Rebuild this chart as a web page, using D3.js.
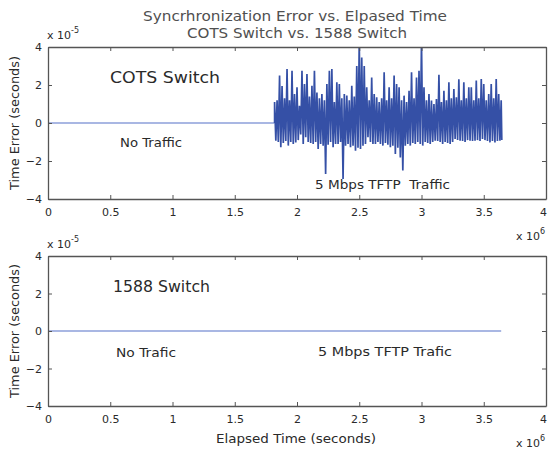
<!DOCTYPE html>
<html>
<head>
<meta charset="utf-8">
<script src="https://cdn.jsdelivr.net/npm/d3@7"></script>
<style>
  body { margin: 0; background: #fff; }
  svg text { font-family: "DejaVu Sans", Arial, sans-serif; fill: #2a2a2a; }
</style>
</head>
<body>
<div id="chart"></div>
<script>
// axis ticks (time in units of 10^6 s, error in units of 10^-5 s)
const timeTicks = [0, 0.5, 1, 1.5, 2, 2.5, 3, 3.5, 4];
const errorTicks = [-4, -2, 0, 2, 4];

// COTS switch: flat before traffic starts
const cotsQuietTime = [0, 1.82];
const cotsQuietError = [0, 0];

// COTS switch under TFTP traffic: peaks and troughs of the noisy trace
const cotsHighTime = [
  1.82, 1.84, 1.86, 1.88, 1.90, 1.92, 1.94, 1.96, 1.98, 2.00,
  2.02, 2.04, 2.06, 2.08, 2.10, 2.12, 2.14, 2.16, 2.18, 2.20,
  2.22, 2.24, 2.26, 2.28, 2.30, 2.32, 2.34, 2.36, 2.38, 2.40,
  2.42, 2.44, 2.46, 2.48, 2.50, 2.52, 2.54, 2.56, 2.58, 2.60,
  2.62, 2.64, 2.66, 2.68, 2.70, 2.72, 2.74, 2.76, 2.78, 2.80,
  2.82, 2.84, 2.86, 2.88, 2.90, 2.92, 2.94, 2.96, 2.98, 3.00,
  3.02, 3.04, 3.06, 3.08, 3.10, 3.12, 3.14, 3.16, 3.18, 3.20,
  3.22, 3.24, 3.26, 3.28, 3.30, 3.32, 3.34, 3.36, 3.38, 3.40,
  3.42, 3.44, 3.46, 3.48, 3.50, 3.52, 3.54, 3.56, 3.58, 3.60,
  3.62, 3.64
];
const cotsHighError = [
  1.1, 1.2, 2.5, 1.95, 1.3, 2.84, 1.2, 2.75, 1.53, 1.88,
  0.9, 2.75, 2.05, 2.58, 1.4, 1.96, 2.75, 1.61, 1.3, 1.53,
  1.2, 2.05, 2.75, 2.84, 1.1, 2.14, 2.05, 1.3, 1.53, 1.44,
  1.2, 1.96, 1.4, 3.0, 4.3, 3.45, 3.0, 1.88, 1.2, 2.4,
  1.53, 1.35, 1.1, 1.3, 2.67, 1.2, 1.88, 1.3, 2.5, 2.05,
  1.88, 1.2, 1.44, 1.1, 1.7, 2.67, 1.3, 2.4, 2.75, 4.3,
  1.88, 1.2, 1.53, 1.18, 1.0, 1.26, 2.54, 1.1, 1.7, 1.2,
  2.14, 1.3, 1.79, 1.35, 2.3, 1.2, 2.14, 1.3, 1.88, 1.88,
  1.2, 2.23, 1.3, 2.32, 2.05, 1.2, 1.53, 2.05, 1.3, 2.32,
  1.53, 1.2
];
const cotsLowTime = [
  1.83, 1.85, 1.87, 1.89, 1.91, 1.93, 1.95, 1.97, 1.99, 2.01,
  2.03, 2.05, 2.07, 2.09, 2.11, 2.13, 2.15, 2.17, 2.19, 2.21,
  2.23, 2.25, 2.27, 2.29, 2.31, 2.33, 2.35, 2.37, 2.39, 2.41,
  2.43, 2.45, 2.47, 2.49, 2.51, 2.53, 2.55, 2.57, 2.59, 2.61,
  2.63, 2.65, 2.67, 2.69, 2.71, 2.73, 2.75, 2.77, 2.79, 2.81,
  2.83, 2.85, 2.87, 2.89, 2.91, 2.93, 2.95, 2.97, 2.99, 3.01,
  3.03, 3.05, 3.07, 3.09, 3.11, 3.13, 3.15, 3.17, 3.19, 3.21,
  3.23, 3.25, 3.27, 3.29, 3.31, 3.33, 3.35, 3.37, 3.39, 3.41,
  3.43, 3.45, 3.47, 3.49, 3.51, 3.53, 3.55, 3.57, 3.59, 3.61,
  3.63, 3.645
];
const cotsLowError = [
  -0.93, -1.0, -1.28, -1.05, -0.95, -1.19, -1.0, -1.1, -1.02, -0.9,
  -0.6, -1.11, -0.75, -1.0, -1.05, -1.11, -1.0, -1.37, -1.1, -1.2,
  -2.68, -1.15, -1.0, -1.28, -1.1, -1.11, -1.0, -2.95, -1.2, -1.1,
  -1.28, -1.2, -1.46, -1.3, -1.37, -1.2, -1.11, -0.75, -1.0, -1.1,
  -1.11, -1.0, -1.1, -1.19, -1.05, -1.15, -1.28, -1.2, -1.63, -1.3,
  -1.81, -2.5, -1.2, -1.1, -1.19, -1.05, -1.11, -1.0, -1.1, -1.19,
  -1.0, -1.05, -1.11, -1.0, -0.93, -0.95, -1.0, -1.11, -1.0, -1.05,
  -1.11, -1.0, -0.84, -0.9, -0.93, -0.95, -1.0, -0.9, -0.93, -0.95,
  -0.93, -0.9, -0.95, -0.84, -0.9, -0.95, -1.02, -0.95, -1.02, -0.95,
  -0.93, -0.9
];

// 1588 switch: flat the whole run
const ptpTime = [0, 3.64];
const ptpError = [0, 0];

const W = 548, H = 452;
const left = 48, right = 546;
const flatColor = '#5570c8';
const noisyColor = '#3550a6';
const axisColor = '#555';

const svg = d3.select('#chart').append('svg')
  .attr('width', W)
  .attr('height', H);

const x = d3.scaleLinear().domain([0, 4]).range([left, right]);

function label(sel, xPos, yPos, size, txt, len) {
  const t = sel.append('text').attr('x', xPos).attr('y', yPos)
    .style('font-size', size + 'px').text(txt);
  if (len) t.attr('textLength', len).attr('lengthAdjust', 'spacingAndGlyphs');
  return t;
}

// title
label(svg, 143, 21, 14, 'Syncrhronization Error vs. Elpased Time', 304).style('fill', '#505050');
label(svg, 187, 38, 14, 'COTS Switch vs. 1588 Switch', 220).style('fill', '#505050');

function drawPanel(top, bottom, series, id) {
  const y = d3.scaleLinear().domain([-4, 4]).range([bottom, top]);
  const g = svg.append('g');

  g.append('clipPath').attr('id', id)
    .append('rect')
    .attr('x', left).attr('y', top)
    .attr('width', right - left).attr('height', bottom - top);

  const line = d3.line().x(d => x(d[0])).y(d => y(d[1]));
  series.forEach(s => {
    g.append('path')
      .datum(s.points)
      .attr('clip-path', `url(#${id})`)
      .attr('fill', 'none')
      .attr('stroke', s.color)
      .attr('stroke-width', s.width)
      .attr('d', line);
  });

  // box with inward ticks
  g.append('g')
    .attr('transform', `translate(0,${bottom})`)
    .call(d3.axisBottom(x).tickValues(timeTicks).tickFormat(d3.format('~g'))
      .tickSizeInner(-4).tickSizeOuter(0).tickPadding(9))
    .selectAll('.tick text').filter(d => d === 4).attr('dx', -3);
  g.append('g')
    .attr('transform', `translate(0,${top})`)
    .call(d3.axisTop(x).tickValues(timeTicks).tickSizeInner(-4).tickSizeOuter(0).tickFormat(''));
  g.append('g')
    .attr('transform', `translate(${left},0)`)
    .call(d3.axisLeft(y).tickValues(errorTicks).tickFormat(d3.format('~g'))
      .tickSizeInner(-4).tickSizeOuter(0).tickPadding(6));
  g.append('g')
    .attr('transform', `translate(${right},0)`)
    .call(d3.axisRight(y).tickValues(errorTicks).tickSizeInner(-4).tickSizeOuter(0).tickFormat(''));

  g.selectAll('.domain').attr('stroke', axisColor).attr('stroke-width', 1.3);
  g.selectAll('.tick line').attr('stroke', axisColor);
  g.selectAll('.tick text').style('font-size', '11px').style('fill', '#2a2a2a')
    .style('font-family', '"DejaVu Sans", Arial, sans-serif');

  // exponent labels
  const ey = g.append('text').attr('x', left - 1).attr('y', top - 8).style('font-size', '11px');
  ey.append('tspan').text('x 10');
  ey.append('tspan').attr('dy', -6).style('font-size', '8px').text('-5');

  const ex = g.append('text').attr('x', 516).attr('y', bottom + 41).style('font-size', '11px');
  ex.append('tspan').text('x 10');
  ex.append('tspan').attr('dy', -6).style('font-size', '8px').text('6');

  // y label
  g.append('text')
    .attr('transform', `translate(19,${(top + bottom) / 2}) rotate(-90)`)
    .attr('text-anchor', 'middle')
    .attr('textLength', 134).attr('lengthAdjust', 'spacingAndGlyphs')
    .style('font-size', '11.5px')
    .text('Time Error (seconds)');

  return g;
}

// upper panel: COTS switch
const quietPoints = cotsQuietTime.map((t, i) => [t, cotsQuietError[i]]);
const noisyPoints = [quietPoints[quietPoints.length - 1]];
cotsHighTime.forEach((t, i) => {
  noisyPoints.push([t, cotsHighError[i]]);
  noisyPoints.push([cotsLowTime[i], cotsLowError[i]]);
});
const upper = drawPanel(47, 199, [
  { points: quietPoints, color: flatColor, width: 1.1 },
  { points: noisyPoints, color: noisyColor, width: 1.7 }
], 'clipUpper');
label(upper, 110, 83, 15, 'COTS Switch', 110);
label(upper, 120, 147, 11.5, 'No Traffic', 62);
label(upper, 315, 189, 11.5, '5 Mbps TFTP  Traffic', 135).style('white-space', 'pre');

// lower panel: 1588 switch
const ptpPoints = ptpTime.map((t, i) => [t, ptpError[i]]);
const lower = drawPanel(256, 406, [
  { points: ptpPoints, color: flatColor, width: 1.1 }
], 'clipLower');
label(lower, 113, 292, 15, '1588 Switch', 97);
label(lower, 116, 357, 11.5, 'No Trafic', 60);
label(lower, 318, 356, 11.5, '5 Mbps TFTP Trafic', 134);

label(svg, 216, 443, 12, 'Elapsed Time (seconds)', 160);
</script>
</body>
</html>
